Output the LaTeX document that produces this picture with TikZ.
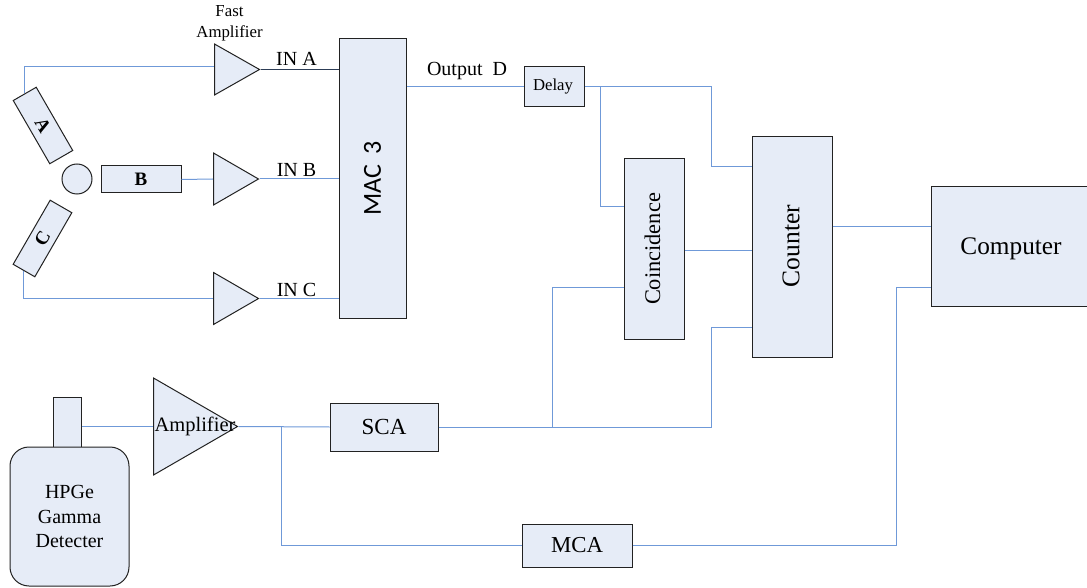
\documentclass[tikz,border=0pt]{standalone}
\usepackage{fontspec}
\setmainfont{Liberation Serif}
\newfontfamily\macfont{Carlito}
\usetikzlibrary{shapes.geometric}
\definecolor{boxfill}{HTML}{E6ECF7}
\definecolor{wire}{HTML}{6F99D8}
\definecolor{outl}{HTML}{222222}
\tikzset{
  x=1pt,y=-1pt,
  blockbox/.style={draw=outl,fill=boxfill,line width=1pt,rectangle,inner sep=0pt,align=center,font=\fontsize{20}{25}\selectfont},
  amptri/.style={draw=outl,fill=boxfill,line width=1pt,isosceles triangle,isosceles triangle apex angle=60,isosceles triangle stretches,inner sep=0pt,anchor=lower side},
  conn/.style={draw=wire,line width=1pt},
  sig/.style={draw=black!60!wire,line width=.9pt},
  lab/.style={inner sep=0pt,font=\fontsize{20}{24}\selectfont},
  detfont/.style={font=\bfseries\fontsize{19}{22}\selectfont},
}
\begin{document}
\begin{tikzpicture}
\useasboundingbox (0,0) rectangle (1087,588);
% source and detectors
\node[draw=outl,fill=boxfill,line width=1pt,circle,minimum size=30pt,inner sep=0pt] (src) at (77,179) {};
\node[blockbox,minimum width=73pt,minimum height=26.5pt,rotate=-60,detfont] (detA) at (43,125.5) {A};
\node[blockbox,minimum width=80pt,minimum height=27pt,detfont] (detB) at (141,179.5) {B};
\node[blockbox,minimum width=74pt,minimum height=25pt,rotate=60,detfont] (detC) at (42.5,238.5) {C};
% fast amplifiers
\node[amptri,minimum height=45pt,minimum width=51pt] (ampA) at (214,69.5) {};
\node[amptri,minimum height=45pt,minimum width=52pt] (ampB) at (213,179) {};
\node[amptri,minimum height=45pt,minimum width=52pt] (ampC) at (213,298.5) {};
\node[lab,align=center,font=\fontsize{16.8}{21}\selectfont] (fast) at (229.5,23.5) {Fast\\Amplifier};
% blocks
\node[blockbox,minimum width=67pt,minimum height=279pt] (mac) at (372.5,178.5) {};
\node[rotate=90,font=\macfont\fontsize{26}{30}\selectfont,inner sep=0pt] (mactext) at (372.5,178.5) {MAC\hspace{10pt}3};
\node[blockbox,minimum width=60pt,minimum height=40pt] (delay) at (554,87) {};
\node[inner sep=0pt,font=\fontsize{16.7}{20}\selectfont] (delaytext) at (553,87) {Delay};
\node[blockbox,minimum width=60pt,minimum height=180pt] (coin) at (654,249) {};
\node[rotate=90,inner sep=0pt,font=\fontsize{22.4}{26}\selectfont] (cointext) at (652.5,249) {Coincidence};
\node[blockbox,minimum width=80pt,minimum height=220pt] (cnt) at (792,247) {};
\node[rotate=90,inner sep=0pt,font=\fontsize{25.5}{30}\selectfont] (cnttext) at (791,246) {Counter};
\node[blockbox,minimum width=156pt,minimum height=119pt] (comp) at (1009,246.5) {};
\node[inner sep=0pt,font=\fontsize{25.3}{30}\selectfont] (comptext) at (1011,249) {Computer};
\node[blockbox,minimum width=108pt,minimum height=48pt,font=\fontsize{23}{27}\selectfont] (sca) at (384,427) {SCA};
\node[blockbox,minimum width=110pt,minimum height=43pt,font=\fontsize{22.8}{27}\selectfont] (mca) at (577,545.5) {MCA};
% HPGe detector
\node[blockbox,minimum width=28pt,minimum height=50pt] (neck) at (67,422) {};
\node[blockbox,rounded corners=19pt,minimum width=119pt,minimum height=139pt,font=\fontsize{20}{24.5}\selectfont] (hpge) at (69.5,516.5) {HPGe\\Gamma\\Detecter};
\node[amptri,minimum height=84pt,minimum width=97pt] (amp) at (153,426.5) {};
\node[inner sep=0pt,font=\fontsize{20.5}{24}\selectfont] (amptext) at (195,426) {Amplifier};
% input labels
\node[lab] (ina) at (296.5,59) {IN A};
\node[lab] (inb) at (296.5,170) {IN B};
\node[lab] (inc) at (296.5,290) {IN C};
\node[lab] (outd) at (467,71) {Output\ \ D};
% junctions
\coordinate (jdelay) at (600,87);
\coordinate (jsca) at (552,427);
\coordinate (jamp) at (281,427);
% connectors
\draw[conn] (detA.west) |- (ampA.lower side |- 0,67);
\draw[conn] (detC.west) |- (ampC.lower side);
\draw[conn] (detB.east) -- (ampB.lower side);
\draw[sig] (ampA.apex) -- (mac.west |- ampA.apex);
\draw[conn] (ampB.apex) -- (mac.west |- ampB.apex);
\draw[conn] (ampC.apex) -- (mac.west |- ampC.apex);
\draw[conn] (mac.east |- delay.west) -- (delay.west);
\draw[conn] (delay.east) -- (711,87) |- (cnt.west |- 0,167);
\draw[conn] (jdelay) |- (coin.west |- 0,207);
\draw[conn] (coin.east |- 0,251) -- (cnt.west |- 0,251);
\draw[conn] (sca.east) -- (711,427) |- (cnt.west |- 0,327);
\draw[conn] (jsca) |- (coin.west |- 0,287);
\draw[conn] (cnt.east |- 0,227) -- (comp.west |- 0,227);
\draw[conn] (mca.east) -- (896,545.5) |- (comp.west |- 0,287);
\draw[conn] (neck.east |- amp.lower side) -- (amp.lower side);
\draw[conn] (amp.apex) -- (sca.west);
\draw[conn] (jamp) |- (mca.west);
\end{tikzpicture}
\end{document}
